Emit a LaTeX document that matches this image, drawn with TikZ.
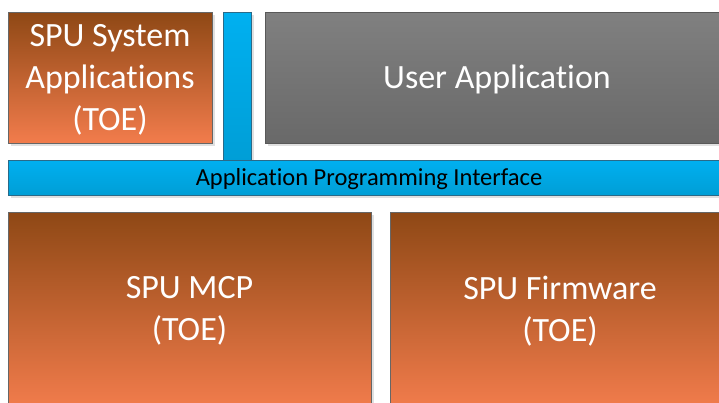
\documentclass[tikz,border=0pt]{standalone}
\usepackage{fontspec}
\setmainfont{Carlito}[Ligatures=NoCommon]
\usetikzlibrary{shadows}

\definecolor{toetop}{HTML}{8E4815}
\definecolor{toebot}{HTML}{F27C4C}
\definecolor{apitop}{HTML}{00B0F0}
\definecolor{apibot}{HTML}{009ED6}
\definecolor{apiline}{HTML}{2A6A88}
\definecolor{usertop}{HTML}{808080}
\definecolor{userbot}{HTML}{696969}

\begin{document}
\begin{tikzpicture}[
  x=1pt, y=-1pt,
  blk/.style={rectangle, anchor=north west, inner sep=0pt, outer sep=0pt,
    draw=black!60, line width=0.8pt,
    drop shadow={shadow xshift=3pt, shadow yshift=-3pt, fill=black!12, opacity=1}},
  big/.style={font=\fontsize{34}{42}\selectfont, text=white, align=center},
  toe/.style={blk, top color=toetop, bottom color=toebot},
  api/.style={blk, draw=apiline, top color=apitop, bottom color=apibot},
  user/.style={blk, draw=black!65, top color=usertop, bottom color=userbot}
]
  \clip (0,0) rectangle (719,402);
  \fill[white] (0,0) rectangle (719,402);

  % boxes
  \node[toe, minimum width=204pt, minimum height=131pt] (sysapp) at (8,12) {};
  \node[api, minimum width=28pt, minimum height=150pt] (apistem) at (223,12) {};
  \node[user, minimum width=464pt, minimum height=131pt] (userapp) at (265,12) {};
  \node[api, minimum width=720pt, minimum height=35pt] (apibar) at (8,160) {};
  \node[toe, minimum width=363pt, minimum height=196pt] (mcp) at (8,212) {};
  \node[toe, minimum width=340pt, minimum height=196pt] (fw) at (390,212) {};

  % labels
  \node[big] (sysapptext) at (110,80) {SPU System\\Applications\\(TOE)};
  \node[big] (usertext) at (497,79) {User Application};
  \node[font=\fontsize{24.5}{28}\selectfont] (apitext) at (369,179)
    {Application Programming Interface};
  \node[big] (mcptext) at (189.5,311) {SPU MCP\\(TOE)};
  \node[big] (fwtext) at (560,311) {SPU Firmware\\(TOE)};
\end{tikzpicture}
\end{document}
